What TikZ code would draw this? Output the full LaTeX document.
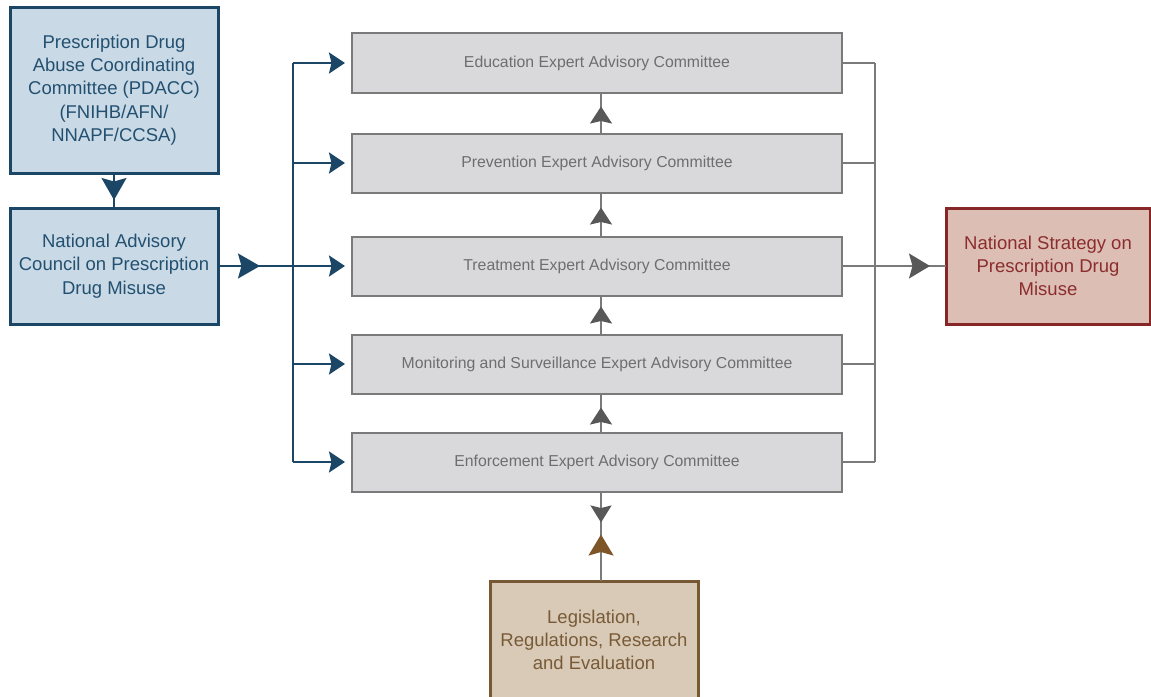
\documentclass[tikz,border=0pt]{standalone}
\usepackage{fontspec}
\setmainfont{Liberation Sans}
\usetikzlibrary{arrows.meta,decorations.markings}
\definecolor{bluefill}{RGB}{201,218,230}
\definecolor{blueline}{RGB}{28,70,102}
\definecolor{bluetext}{RGB}{35,80,112}
\definecolor{grayfill}{RGB}{217,217,219}
\definecolor{grayline}{RGB}{122,122,122}
\definecolor{graytext}{RGB}{110,110,110}
\definecolor{grayarrow}{RGB}{88,88,88}
\definecolor{brownfill}{RGB}{216,202,182}
\definecolor{brownline}{RGB}{118,88,52}
\definecolor{browntext}{RGB}{120,90,55}
\definecolor{brownarrow}{RGB}{125,85,40}
\definecolor{redfill}{RGB}{220,190,180}
\definecolor{redline}{RGB}{135,38,38}
\definecolor{redtext}{RGB}{140,45,45}
\begin{document}
\begin{tikzpicture}[x=1pt,y=-1pt,
  box/.style={draw, line width=3pt, minimum width=208pt, align=center, inner sep=0pt, outer sep=0pt,
    font=\fontsize{18.5}{23.3}\selectfont},
  bluebox/.style={box, fill=bluefill, draw=blueline, text=bluetext},
  redbox/.style={box, fill=redfill, draw=redline, text=redtext},
  brownbox/.style={box, fill=brownfill, draw=brownline, text=browntext},
  combox/.style={draw=grayline, fill=grayfill, line width=2pt, minimum width=490pt, minimum height=59pt,
    inner sep=0pt, outer sep=0pt, text=graytext, font=\fontsize{15.8}{18}\selectfont},
  bconn/.style={draw=blueline, line width=2pt},
  gconn/.style={draw=grayline, line width=1.6pt},
  btip/.style={-{Stealth[length=16pt,width=21pt,inset=2.5pt]}, shorten >=7pt},
  bmid/.style={postaction={decorate}, decoration={markings,
    mark=at position #1 with {\arrow{Stealth[length=22pt,width=25pt,inset=3.5pt,blueline]}}}},
  gmid/.style={postaction={decorate}, decoration={markings,
    mark=at position #1 with {\arrow{Stealth[length=17pt,width=22pt,inset=2.5pt,grayarrow]}}}},
  gbig/.style={postaction={decorate}, decoration={markings,
    mark=at position #1 with {\arrow{Stealth[length=21pt,width=25pt,inset=3.5pt,grayarrow]}}}},
]
\useasboundingbox (0,0) rectangle (1151,696);

% left boxes
\node[bluebox, minimum height=166pt] (pdacc) at (114,90)
  {Prescription Drug\\Abuse Coordinating\\Committee (PDACC)\\(FNIHB/AFN/\\NNAPF/CCSA)};
\node[bluebox, minimum height=116pt] (nac) at (114,266)
  {National Advisory\\Council on Prescription\\Drug Misuse};

% committee boxes
\node[combox, minimum height=60pt] (edu) at (597,63) {Education Expert Advisory Committee};
\node[combox] (prev) at (597,163) {Prevention Expert Advisory Committee};
\node[combox] (treat) at (597,266) {Treatment Expert Advisory Committee};
\node[combox] (mon) at (597,364) {Monitoring and Surveillance Expert Advisory Committee};
\node[combox] (enf) at (597,462) {Enforcement Expert Advisory Committee};

% bottom and right boxes
\node[brownbox, minimum height=118pt] (leg) at (594,640)
  {Legislation,\\Regulations, Research\\and Evaluation};
\node[redbox, minimum width=204pt, minimum height=116pt] (nsd) at (1048,266)
  {National Strategy on\\Prescription Drug\\Misuse};

\coordinate (tx) at (293,0);
\coordinate (rx) at (875,0);
\coordinate (ax) at (601,0);

% blue connectors
\draw[bconn, bmid=27pt] (pdacc.south) -- (nac.north);
\draw[bconn, bmid=42pt, btip] (nac.east) -- (treat.west);
\draw[bconn] (tx |- edu.west) -- (tx |- enf.west);
\draw[bconn, btip] (tx |- edu.west) -- (edu.west);
\draw[bconn, btip] (tx |- prev.west) -- (prev.west);
\draw[bconn, btip] (tx |- mon.west) -- (mon.west);
\draw[bconn, btip] (tx |- enf.west) -- (enf.west);

% gray vertical arrows between committees
\draw[gconn, gmid=27pt] (prev.north -| ax) -- (edu.south -| ax);
\draw[gconn, gmid=29pt] (treat.north -| ax) -- (prev.south -| ax);
\draw[gconn, gmid=28pt] (mon.north -| ax) -- (treat.south -| ax);
\draw[gconn, gmid=25pt] (enf.north -| ax) -- (mon.south -| ax);

% enforcement - legislation
\draw[gconn, postaction={decorate}, decoration={markings,
    mark=at position 31pt with {\arrow{Stealth[length=17pt,width=21pt,inset=2.5pt,grayarrow]}},
    mark=at position 43pt with {\arrowreversed{Stealth[length=21pt,width=25pt,inset=3.5pt,brownarrow]}}}]
  (enf.south -| ax) -- (leg.north -| ax);

% right collector
\draw[gconn] (edu.east) -- (edu.east -| rx);
\draw[gconn] (prev.east) -- (prev.east -| rx);
\draw[gconn] (mon.east) -- (mon.east -| rx);
\draw[gconn] (enf.east) -- (enf.east -| rx);
\draw[gconn] (edu.east -| rx) -- (enf.east -| rx);
\draw[gconn, gbig=88pt] (treat.east) -- (nsd.west);
\end{tikzpicture}
\end{document}
